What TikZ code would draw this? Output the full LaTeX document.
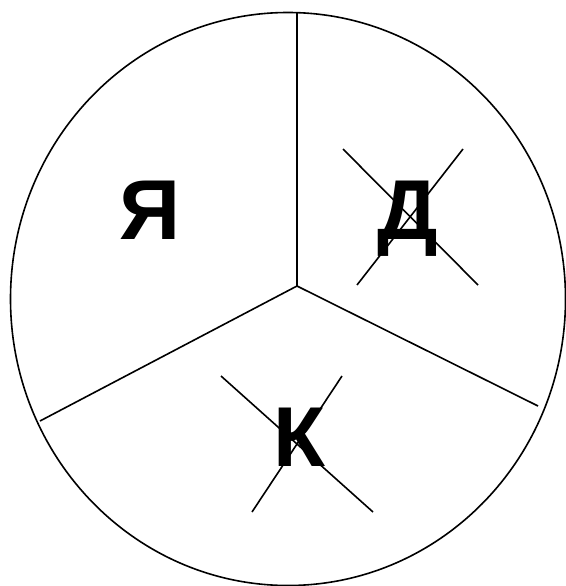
\documentclass[tikz,border=0pt]{standalone}
\usepackage{fontspec}
\setmainfont{Liberation Sans}
\begin{document}
\begin{tikzpicture}[x=1pt,y=-1pt,
  ln/.style={line width=1.6pt,black},
  letter/.style={font=\bfseries\fontsize{85}{85}\selectfont,anchor=base,inner sep=0pt}]
\useasboundingbox (0,0) rectangle (565,586);
\draw[ln] (288,299) ellipse [x radius=277.5, y radius=286.5];
\coordinate (c) at (297,286);
\coordinate (top) at (297,13);
\coordinate (lft) at (40,421);
\coordinate (rgt) at (538,406);
\draw[ln] (c) -- (top);
\draw[ln] (c) -- (lft);
\draw[ln] (c) -- (rgt);
\node[letter] (ya) at (150.5,239) {Я};
\node[letter] (de) at (408,239) {Д};
\node[letter] (ka) at (299.5,466) {К};
\coordinate (d1) at (343,149);
\coordinate (d2) at (478,285);
\coordinate (d3) at (463,149);
\coordinate (d4) at (357,285);
\draw[ln] (d1) -- (d2);
\draw[ln] (d3) -- (d4);
\coordinate (k1) at (221,376);
\coordinate (k2) at (373,512);
\coordinate (k3) at (342,376);
\coordinate (k4) at (252,512);
\draw[ln] (k1) -- (k2);
\draw[ln] (k3) -- (k4);
\end{tikzpicture}
\end{document}
